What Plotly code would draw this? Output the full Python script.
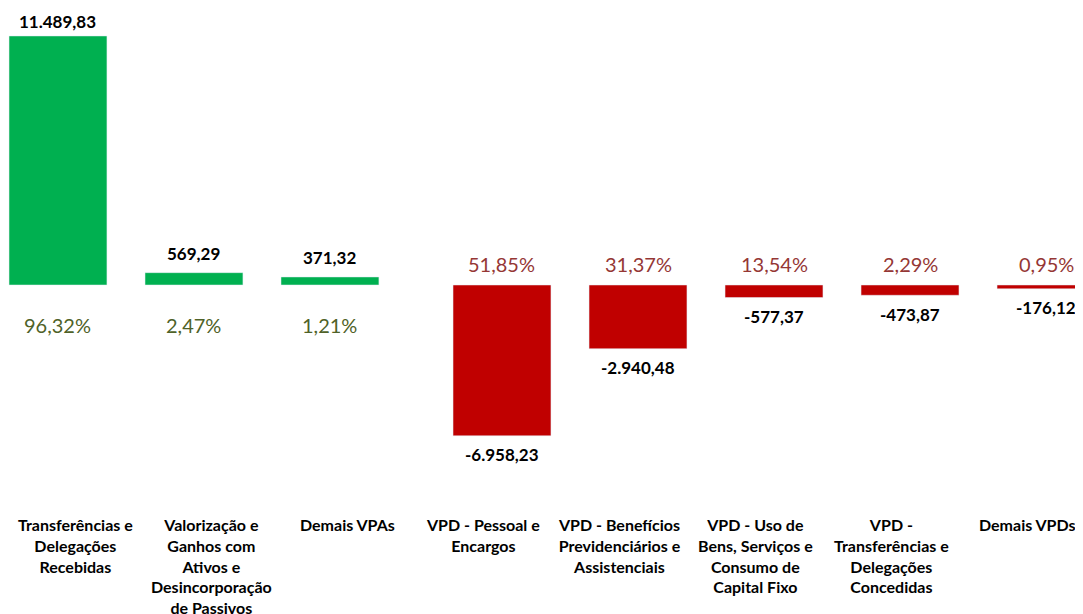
import plotly.graph_objects as go

# ---- data ----
vpa_categories = [
    "Transferências e<br>Delegações<br>Recebidas",
    "Valorização e<br>Ganhos com<br>Ativos e<br>Desincorporação<br>de Passivos",
    "Demais VPAs",
]
vpa_values = [11489.83, 569.29, 371.32]
vpa_percent = ["96,32%", "2,47%", "1,21%"]

vpd_categories = [
    "VPD - Pessoal e<br>Encargos",
    "VPD - Benefícios<br>Previdenciários e<br>Assistenciais",
    "VPD - Uso de<br>Bens, Serviços e<br>Consumo de<br>Capital Fixo",
    "VPD -<br>Transferências e<br>Delegações<br>Concedidas",
    "Demais VPDs",
]
vpd_values = [-6958.23, -2940.48, -577.37, -473.87, -176.12]
vpd_percent = ["51,85%", "31,37%", "13,54%", "2,29%", "0,95%"]

GREEN = "#00B050"
RED = "#C00000"
OLIVE = "#4F6228"
DARKRED = "#953735"
FONT = "Lato"


def br(v):
    s = f"{v:,.2f}"
    return s.replace(",", "X").replace(".", ",").replace("X", ".")


fig = go.Figure()
fig.add_trace(go.Bar(x=vpa_categories, y=vpa_values, marker_color=GREEN,
                     xaxis="x", yaxis="y", hoverinfo="skip"))
fig.add_trace(go.Bar(x=vpd_categories, y=vpd_values, marker_color=RED,
                     xaxis="x2", yaxis="y", hoverinfo="skip"))

ymax = 12781
ann = []
catfont = dict(family=FONT, size=16, color="black")
valfont = dict(family=FONT, size=17, color="black")
for c, v, p in zip(vpa_categories, vpa_values, vpa_percent):
    # label sits a bit closer to the bar when the bar reaches the top of the chart
    shift = 14 if v > 0.85 * ymax else 19
    ann.append(dict(x=c, y=v, xref="x", yref="y", text=f"<b>{br(v)}</b>",
                    showarrow=False, yshift=shift, yanchor="middle", borderpad=0,
                    font=valfont))
    ann.append(dict(x=c, y=0, xref="x", yref="y", text=p,
                    showarrow=False, yshift=-40, yanchor="middle",
                    font=dict(family=FONT, size=20, color=OLIVE)))
    ann.append(dict(x=c, y=0, xref="x", yref="paper", text=f"<b>{c}</b>",
                    showarrow=False, yshift=-13, xshift=18, yanchor="top",
                    align="center", font=catfont))
for c, v, p in zip(vpd_categories, vpd_values, vpd_percent):
    ann.append(dict(x=c, y=v, xref="x2", yref="y", text=f"<b>{br(v)}</b>",
                    showarrow=False, yshift=-19, yanchor="middle", font=valfont))
    ann.append(dict(x=c, y=0, xref="x2", yref="y", text=p,
                    showarrow=False, yshift=21, yanchor="middle",
                    font=dict(family=FONT, size=20, color=DARKRED)))
    ann.append(dict(x=c, y=0, xref="x2", yref="paper", text=f"<b>{c}</b>",
                    showarrow=False, yshift=-13, xshift=-19, yanchor="top",
                    align="center", font=catfont))

W, H = 1075, 606
split = 389 / W
axis_common = dict(showgrid=False, zeroline=False, showline=False,
                   showticklabels=False, ticks="", fixedrange=True,
                   type="category")

fig.update_layout(
    width=W, height=H,
    margin=dict(l=0, r=0, t=0, b=H - 492),
    paper_bgcolor="white", plot_bgcolor="white",
    showlegend=False, bargap=0.28,
    xaxis=dict(domain=[0, split], range=[-0.3676, 2.493], anchor="y", **axis_common),
    xaxis2=dict(domain=[split, 1], range=[-0.772, 4.272], anchor="y", **axis_common),
    yaxis=dict(range=[-9920, ymax], showgrid=False, zeroline=False,
               showticklabels=False, showline=False, fixedrange=True),
    annotations=ann,
    font=dict(family=FONT),
)

fig.write_html("out.html")
